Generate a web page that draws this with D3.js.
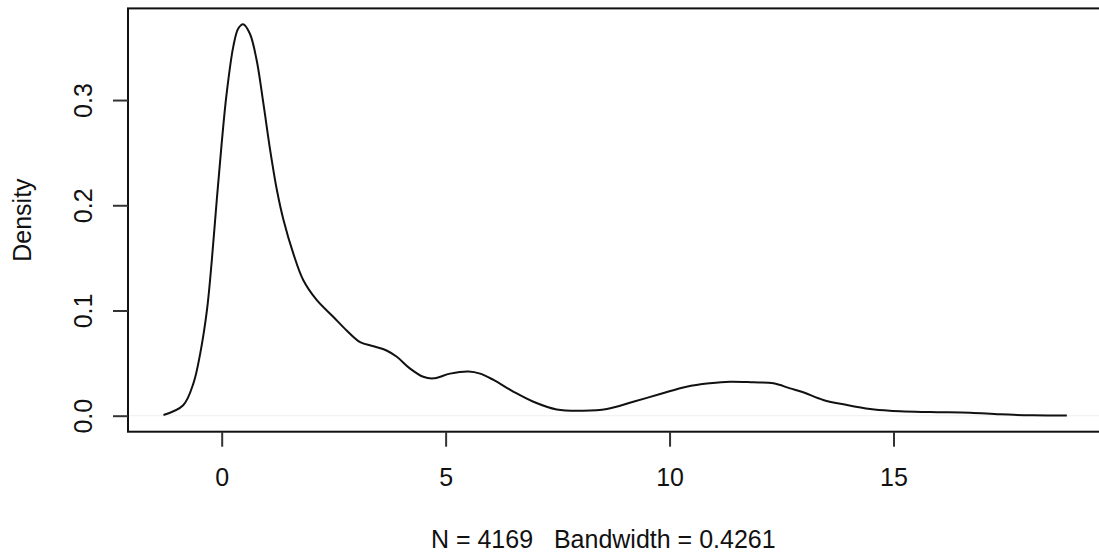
<!DOCTYPE html>
<html><head><meta charset="utf-8">
<script src="https://cdn.jsdelivr.net/npm/d3@7"></script>
<style>body{margin:0;background:#fff}svg{display:block}text{font-family:"Liberation Sans",Arial,sans-serif;fill:#111;white-space:pre}</style>
</head><body>
<svg id="c" width="1099" height="553"></svg>
<script>
const xs = [-1.30,-0.86,-0.63,-0.48,-0.33,-0.22,-0.11,0,0.11,0.26,0.37,0.48,0.63,0.78,0.93,1.08,1.23,1.38,1.60,1.82,2.12,2.49,2.79,3.09,3.39,3.68,3.91,4.20,4.50,4.73,5.10,5.51,5.77,6.07,6.51,6.96,7.48,8.07,8.60,9.19,9.79,10.38,10.90,11.35,11.87,12.32,12.69,13.0,13.43,13.96,14.48,14.92,15.82,16.71,17.38,18.12,18.87];
const ys = [0.0007,0.010,0.031,0.059,0.100,0.148,0.205,0.259,0.306,0.351,0.368,0.372,0.363,0.338,0.297,0.253,0.215,0.186,0.154,0.129,0.110,0.094,0.081,0.070,0.066,0.062,0.056,0.045,0.037,0.0355,0.040,0.042,0.040,0.034,0.023,0.0133,0.006,0.0048,0.0064,0.0133,0.0206,0.0276,0.0308,0.0323,0.0317,0.0308,0.026,0.022,0.015,0.0102,0.0064,0.0048,0.0035,0.0029,0.0013,0.0004,0.0001];
const xTicks = [0,5,10,15];
const yTicks = [0.0,0.1,0.2,0.3];
const yTickLabels = ["0.0","0.1","0.2","0.3"];
const xLabel = "N = 4169   Bandwidth = 0.4261";
const yLabel = "Density";

const L=128, R=1104, T=8.4, B=431.7;
const x = d3.scaleLinear().domain([-2.092, 19.70]).range([L, R]);
const y = d3.scaleLinear().domain([-0.0152, 0.3871]).range([B, T]);
const svg = d3.select("#c");
const FS = 25;

// zero line
svg.append("line").attr("x1",L).attr("x2",R).attr("y1",y(0)).attr("y2",y(0))
  .attr("stroke","#f0f0f0").attr("stroke-width",1);

const pts = xs.map((v,i)=>[v, ys[i]]);
svg.append("path").datum(pts)
  .attr("d", d3.line().x(d=>x(d[0])).y(d=>y(d[1])).curve(d3.curveCatmullRom.alpha(0.5)))
  .attr("fill","none").attr("stroke","#111").attr("stroke-width",2);

// box
svg.append("rect").attr("x",L).attr("y",T).attr("width",R-L).attr("height",B-T)
  .attr("fill","none").attr("stroke","#111").attr("stroke-width",2);

// x axis
const xa = svg.append("g").attr("transform",`translate(0,${B})`)
  .call(d3.axisBottom(x).tickValues(xTicks).tickSize(15).tickPadding(22).tickFormat(d3.format("d")));
xa.select(".domain").remove();
xa.selectAll("line").attr("stroke","#333").attr("stroke-width",2);
xa.selectAll("text").attr("font-size",FS).attr("font-family","Liberation Sans, Arial, sans-serif").attr("fill","#111");

// y axis
const ya = svg.append("g").attr("transform",`translate(${L},0)`)
  .call(d3.axisLeft(y).tickValues(yTicks).tickSize(15).tickFormat((d,i)=>yTickLabels[i]));
ya.select(".domain").remove();
ya.selectAll("line").attr("stroke","#333").attr("stroke-width",2);
ya.selectAll("text").remove();
ya.selectAll(".tick").append("text")
  .attr("transform","translate(-45,0) rotate(-90)")
  .attr("text-anchor","middle").attr("dy","0.35em")
  .attr("font-size",FS).text((d,i)=>yTickLabels[i]);

svg.append("text").attr("y",548)
  .attr("text-anchor","middle").attr("font-size",FS).attr("xml:space","preserve").text(xLabel)
  .attr("x", x(8.52));
svg.append("text").attr("transform",`translate(22,${(T+B)/2}) rotate(-90)`)
  .attr("text-anchor","middle").attr("dy","0.35em").attr("font-size",FS).text(yLabel);
</script>
</body></html>
